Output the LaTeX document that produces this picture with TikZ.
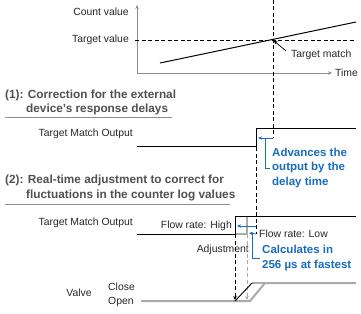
\documentclass[tikz,border=0pt]{standalone}
\usepackage{fontspec}
\setmainfont{Liberation Sans}
\usepackage{xcolor}
\usetikzlibrary{arrows.meta, positioning}
\definecolor{noteblue}{RGB}{24,108,190}
\definecolor{headgray}{RGB}{80,80,80}
\definecolor{axisgray}{RGB}{140,140,140}
\definecolor{adjgray}{RGB}{170,170,170}

\begin{document}
\begin{tikzpicture}[
    x=1pt, y=-1pt,
    lbl/.style={font=\fontsize{10.4}{12}\selectfont, text=black!85, inner sep=0pt},
    head/.style={font=\bfseries\fontsize{11.8}{14}\selectfont, text=headgray, inner sep=0pt, anchor=west},
    note/.style={font=\bfseries\fontsize{11.5}{14.5}\selectfont, text=noteblue, inner sep=0pt, align=left},
    wave/.style={line width=1pt},
    guide/.style={dash pattern=on 4pt off 2.5pt, line width=0.8pt},
    arrow/.style={-{Stealth[length=4pt, width=3.5pt]}},
    rule/.style={axisgray, line width=0.7pt},
]
    \useasboundingbox (0,0) rectangle (361,313);

    % Count value graph
    \coordinate (origin) at (137,73);
    \coordinate (ytip) at (137,5);
    \coordinate (xtip) at (332,73);
    \draw[axisgray, line width=0.6pt, arrow] (origin) -- (ytip);
    \draw[axisgray, line width=0.6pt, arrow] (origin) -- (xtip);
    \node[lbl, anchor=east] (count) at (129,12) {Count value};
    \node[lbl, anchor=east] (target) at (129,40) {Target value};
    \node[lbl, right=3pt of xtip] (time) {Time};
    \coordinate (tvstart) at (135,40);
    \coordinate (tvend) at (356,40);
    \draw[guide] (tvstart) -- (tvend);
    \coordinate (cstart) at (160,63);
    \coordinate (cend) at (356,22);
    \draw[wave] (cstart) -- (cend);
    \coordinate (match) at (273,40);
    \coordinate (mtail) at (286,51);
    \node[lbl, anchor=west] (matchlbl) at (291,55) {Target match};
    \draw[arrow, line width=0.7pt, shorten >=1pt] (mtail) -- (match);
    \coordinate (mtop) at (273,0);
    \coordinate (mlow) at (273,138);
    \draw[guide] (mtop) -- (mlow);

    % (1) Correction for delays
    \node[head] (h1a) at (5,95) {(1): Correction for the external};
    \node[head] (h1b) at (26,109) {device’s response delays};
    \coordinate (u1a) at (5,117);
    \coordinate (u1b) at (172,117);
    \draw[rule] (u1a) -- (u1b);
    \node[lbl, anchor=east] (out1) at (133,134) {Target Match Output};
    \coordinate (s1a) at (137,146);
    \coordinate (s1b) at (256,146);
    \coordinate (s1c) at (256,128);
    \coordinate (s1d) at (356,128);
    \draw[wave] (s1a) -- (s1b) -- (s1c) -- (s1d);
    \coordinate (adv) at (258,138);
    \draw[noteblue, line width=0.9pt, arrow] (mlow) -- (adv);
    \coordinate (b1top) at (265,138);
    \coordinate (b1end) at (270,168);
    \draw[noteblue, line width=0.9pt] (b1top) |- (b1end);
    \node[note, right=2pt of b1end] (advtext) {Advances the\\output by the\\delay time};

    % (2) Real-time adjustment
    \node[head] (h2a) at (5,180) {(2): Real-time adjustment to correct for};
    \node[head] (h2b) at (26,195) {fluctuations in the counter log values};
    \coordinate (u2a) at (5,204);
    \coordinate (u2b) at (230,204);
    \draw[rule] (u2a) -- (u2b);
    \node[lbl, anchor=east] (out2) at (133,223) {Target Match Output};
    \coordinate (s2a) at (137,234);
    \coordinate (s2b) at (235,234);
    \coordinate (s2c) at (235,216);
    \coordinate (s2d) at (356,216);
    \coordinate (g2b) at (247,234);
    \coordinate (g2c) at (247,217);
    \draw[adjgray, line width=1.2pt] (s2b) -- (g2b) -- (g2c);
    \draw[wave] (s2a) -- (s2b) -- (s2c) -- (s2d);
    \coordinate (dtop) at (256,147);
    \coordinate (dlow) at (256,234);
    \draw[guide] (dtop) -- (dlow);
    \node[lbl, anchor=east] (high) at (232,226) {Flow rate: High};
    \coordinate (fhigh) at (256,226);
    \coordinate (hightip) at (237,226);
    \draw[noteblue, line width=0.9pt, arrow] (fhigh) -- (hightip);
    \coordinate (lowtip) at (249,233);
    \draw[noteblue, line width=0.9pt, arrow] (dlow) -- (lowtip);
    \node[lbl, anchor=west] (low) at (259,234) {Flow rate: Low};
    \coordinate (b2top) at (252,233);
    \coordinate (b2end) at (260,258);
    \draw[noteblue, line width=0.9pt] (b2top) |- (b2end);
    \node[note, right=2pt of b2end] (calc) {Calculates in\\256 µs at fastest};
    \node[lbl, anchor=east] (adj) at (249,250) {Adjustment};
    \coordinate (vhigh) at (235,300);
    \coordinate (vlow) at (247,300);
    \draw[guide, arrow] (s2b) -- (vhigh);
    \draw[guide, adjgray, arrow] (g2b) -- (vlow);

    % Valve
    \node[lbl] (valve) at (79,293) {Valve};
    \node[lbl, anchor=west] (close) at (108,287) {Close};
    \node[lbl, anchor=west] (open) at (108,302) {Open};
    \coordinate (va) at (141,301);
    \coordinate (vb) at (250,301);
    \coordinate (vc) at (265,283);
    \coordinate (vd) at (356,283);
    \coordinate (ve) at (252,283);
    \draw[adjgray, line width=2pt] (va) -- (vb) -- (vc) -- (vd);
    \draw[adjgray, line width=2pt] (ve) -- (vc);
    \coordinate (vf) at (235,301);
    \draw[line width=0.9pt] (vf) -- (ve);
\end{tikzpicture}
\end{document}
